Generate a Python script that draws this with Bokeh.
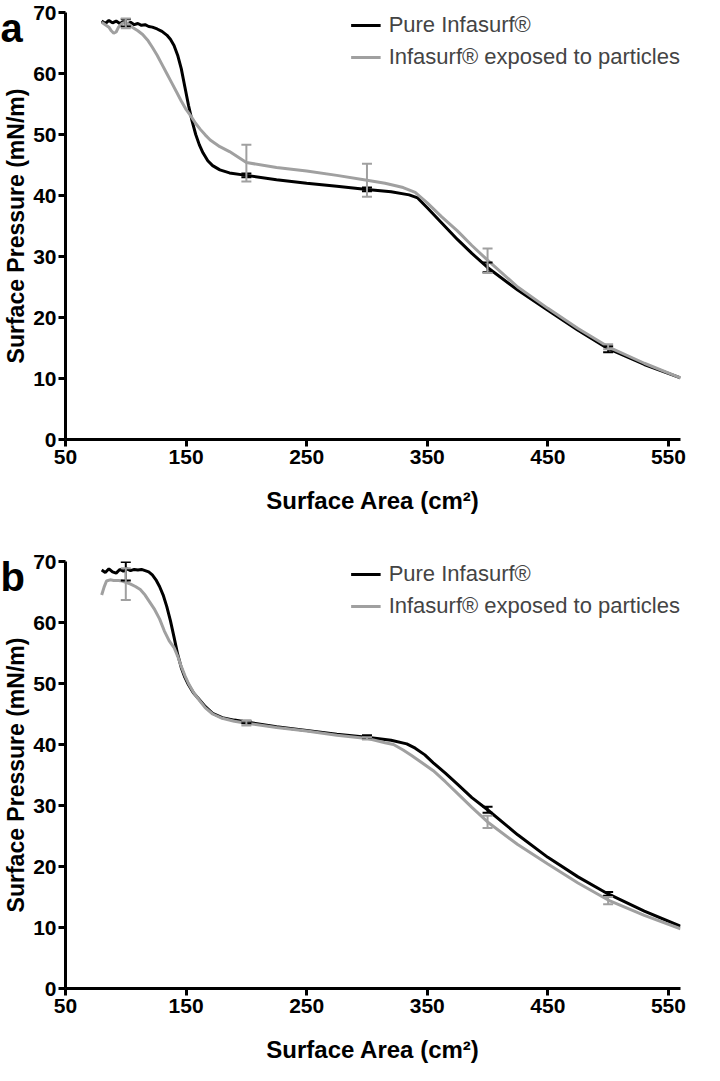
from bokeh.plotting import figure
from bokeh.models import (ColumnDataSource, Whisker, TeeHead, Legend, LegendItem,
                          Label, FixedTicker, Range1d)
from bokeh.layouts import column
from bokeh.embed import file_html
from bokeh.resources import INLINE

# ---------------- data: panel a ----------------
area_a_pure = [80, 83, 86, 89, 92, 95, 98, 101, 104, 107, 110, 113, 116, 119, 122, 126, 130,
               134, 137, 140, 143, 146, 149, 152, 155, 158, 161, 164, 168, 172, 178, 186, 200,
               225, 250, 275, 300, 320, 335, 342, 350, 362, 375, 387, 400, 425, 450, 475, 500,
               530, 560]
press_a_pure = [68.6, 68.2, 68.7, 68.3, 68.6, 68.2, 68.5, 68.1, 68.4, 68.0, 68.2, 67.9, 68.0,
                67.7, 67.6, 67.3, 66.9, 66.3, 65.6, 64.6, 63.0, 60.8, 57.8, 54.8, 52.2, 50.0,
                48.3, 47.0, 45.7, 44.9, 44.2, 43.7, 43.3, 42.6, 42.0, 41.5, 41.0, 40.6, 40.1,
                39.6, 38.0, 35.5, 32.8, 30.5, 28.2, 24.5, 21.2, 17.9, 14.9, 12.3, 10.1]

area_a_part = [80, 83, 86, 88, 90, 92, 94, 97, 100, 103, 106, 110, 114, 118, 122, 126, 130,
               134, 138, 142, 146, 150, 154, 158, 162, 166, 170, 178, 186, 200, 225, 250, 275,
               300, 315, 330, 340, 350, 362, 375, 387, 400, 425, 450, 475, 500, 530, 560]
press_a_part = [68.4, 68.0, 67.6, 67.0, 66.6, 66.8, 67.6, 68.2, 68.4, 68.0, 67.5, 67.0, 66.4,
                65.5, 64.3, 63.0, 61.5, 60.0, 58.5, 57.0, 55.5, 54.1, 53.0, 51.8, 50.8, 49.9,
                49.1, 48.0, 47.2, 45.4, 44.6, 44.0, 43.3, 42.5, 42.0, 41.3, 40.5, 38.8, 36.5,
                34.2, 31.8, 29.4, 25.0, 21.5, 18.2, 15.2, 12.5, 10.1]

err_area = [100, 200, 300, 400, 500]
a_pure_mean = [68.3, 43.3, 41.0, 28.2, 14.8]
a_pure_err = [0.6, 0.3, 0.3, 0.8, 0.5]
a_part_mean = [68.2, 45.3, 42.5, 29.3, 15.2]
a_part_err = [0.8, 3.0, 2.7, 2.0, 0.4]

# ---------------- data: panel b ----------------
area_b_pure = [80, 83, 86, 89, 92, 95, 98, 101, 104, 107, 110, 113, 116, 119, 122, 125, 128,
               131, 134, 137, 140, 143, 146, 149, 152, 156, 160, 166, 172, 180, 190, 200, 225,
               250, 275, 300, 320, 333, 340, 348, 355, 365, 375, 387, 400, 425, 450, 475, 500,
               530, 560]
press_b_pure = [68.6, 68.2, 68.8, 68.3, 68.1, 68.7, 68.4, 68.8, 68.5, 68.7, 68.6, 68.7, 68.5,
                68.3, 67.8, 67.0, 65.9, 64.5, 62.6, 60.3, 57.6, 54.8, 52.6, 51.0, 49.8, 48.5,
                47.6, 46.2, 45.1, 44.4, 44.0, 43.7, 42.9, 42.3, 41.7, 41.2, 40.7, 40.1, 39.4,
                38.3, 37.0, 35.3, 33.5, 31.3, 29.3, 25.2, 21.5, 18.3, 15.5, 12.7, 10.2]

area_b_part = [80, 82, 84, 87, 90, 94, 97, 100, 104, 108, 112, 116, 120, 124, 128, 132, 136,
               140, 143, 146, 149, 152, 156, 160, 166, 172, 180, 190, 200, 225, 250, 275, 300,
               315, 322, 330, 337, 345, 355, 365, 375, 387, 400, 425, 450, 475, 500, 530, 560]
press_b_part = [64.5, 65.8, 66.8, 67.0, 66.9, 66.9, 66.8, 66.6, 66.3, 65.9, 65.4, 64.5, 63.3,
                62.1, 60.6, 58.6, 57.0, 55.9, 54.5, 52.8, 51.3, 50.0, 48.6, 47.5, 46.0, 45.0,
                44.3, 43.8, 43.5, 42.8, 42.2, 41.5, 41.0, 40.3, 40.0, 39.1, 38.2, 37.1, 35.7,
                33.9, 32.0, 29.7, 27.3, 23.6, 20.4, 17.3, 14.5, 12.0, 9.8]

b_pure_mean = [68.4, 43.7, 41.2, 29.3, 15.5]
b_pure_err = [1.5, 0.2, 0.3, 0.5, 0.3]
b_part_mean = [66.3, 43.5, 41.0, 27.3, 14.4]
b_part_err = [2.6, 0.4, 0.2, 1.0, 0.6]

x_ticks = [50, 150, 250, 350, 450, 550]
y_ticks = [0, 10, 20, 30, 40, 50, 60, 70]
series_names = ["Pure Infasurf\u00ae", "Infasurf\u00ae exposed to particles"]

BLACK = "#000000"
GRAY = "#a0a0a0"
BOLD_FONT = "'Liberation Sans', Arial, sans-serif"
REG_FONT = "'Liberation Sans', Arial, sans-serif"
FIG_W = 704


def make_panel(letter, xp, yp, xq, yq, pm, pe, qm, qe, top, frame_h, bottom):
    p = figure(width=FIG_W, height=top + frame_h + bottom, output_backend="svg",
               toolbar_location=None,
               x_range=Range1d(50, 560), y_range=Range1d(0, 70),
               min_border_left=62, min_border_right=2, min_border_top=top,
               min_border_bottom=bottom)
    p.outline_line_color = None
    p.xgrid.visible = False
    p.ygrid.visible = False
    p.background_fill_color = "white"
    p.border_fill_color = "white"

    r1 = p.line(xp, yp, line_color=BLACK, line_width=3)
    r2 = p.line(xq, yq, line_color=GRAY, line_width=3)

    for mean, err, col in ((pm, pe, BLACK), (qm, qe, GRAY)):
        src = ColumnDataSource(dict(x=err_area,
                                    upper=[m + e for m, e in zip(mean, err)],
                                    lower=[m - e for m, e in zip(mean, err)]))
        w = Whisker(source=src, base="x", upper="upper", lower="lower", dimension="height",
                    line_color=col, line_width=2, level="annotation",
                    upper_head=TeeHead(size=10, line_color=col, line_width=2),
                    lower_head=TeeHead(size=10, line_color=col, line_width=2))
        p.add_layout(w)

    legend = Legend(items=[LegendItem(label=series_names[0], renderers=[r1]),
                           LegendItem(label=series_names[1], renderers=[r2])],
                    location="top_right", border_line_color=None, background_fill_alpha=0,
                    label_text_font=REG_FONT, label_text_font_size="22px",
                    glyph_width=30, glyph_height=24, label_height=24,
                    label_standoff=8, spacing=6, padding=0, margin=0)
    p.add_layout(legend)

    p.xaxis.ticker = FixedTicker(ticks=x_ticks)
    p.yaxis.ticker = FixedTicker(ticks=y_ticks)
    for ax in (p.xaxis[0], p.yaxis[0]):
        ax.axis_line_width = 3
        ax.axis_line_color = BLACK
        ax.major_tick_line_width = 3
        ax.major_tick_line_color = BLACK
        ax.major_tick_out = 7
        ax.major_tick_in = 0
        ax.minor_tick_out = 0
        ax.minor_tick_in = 0
        ax.major_label_text_font = BOLD_FONT
        ax.major_label_text_font_style = "bold"
        ax.major_label_text_font_size = "21px"
        ax.major_label_text_color = BLACK
        ax.axis_label_text_font = BOLD_FONT
        ax.axis_label_text_font_style = "bold"
        ax.axis_label_text_color = BLACK
    p.xaxis.major_label_standoff = 3
    p.yaxis.major_label_standoff = 2
    p.xaxis.axis_label = "Surface Area (cm\u00b2)"
    p.yaxis.axis_label = "Surface Pressure (mN/m)"
    p.xaxis.axis_label_standoff = 20
    p.xaxis.axis_label_text_font_size = "24px"
    p.yaxis.axis_label_text_font_size = "23px"
    p.yaxis.axis_label_standoff = 1

    # panel letter: kept in the right side panel (not clipped to the frame) and
    # shifted to the figure's left edge
    letter_w = 23
    p.add_layout(Label(x=-(FIG_W - letter_w) + 1, y=frame_h - 18,
                       x_units="screen", y_units="screen", text=letter,
                       text_font=REG_FONT, text_font_style="bold", text_font_size="40px",
                       text_baseline="alphabetic", text_align="left", text_color=BLACK),
                 "right")
    return p


pa = make_panel("a", area_a_pure, press_a_pure, area_a_part, press_a_part,
                a_pure_mean, a_pure_err, a_part_mean, a_part_err, 12, 430, 74)
pb = make_panel("b", area_b_pure, press_b_pure, area_b_part, press_b_part,
                b_pure_mean, b_pure_err, b_part_mean, b_part_err, 45, 430, 74)

layout = column(pa, pb, spacing=0)
open("out.html", "w").write(file_html(layout, INLINE))
